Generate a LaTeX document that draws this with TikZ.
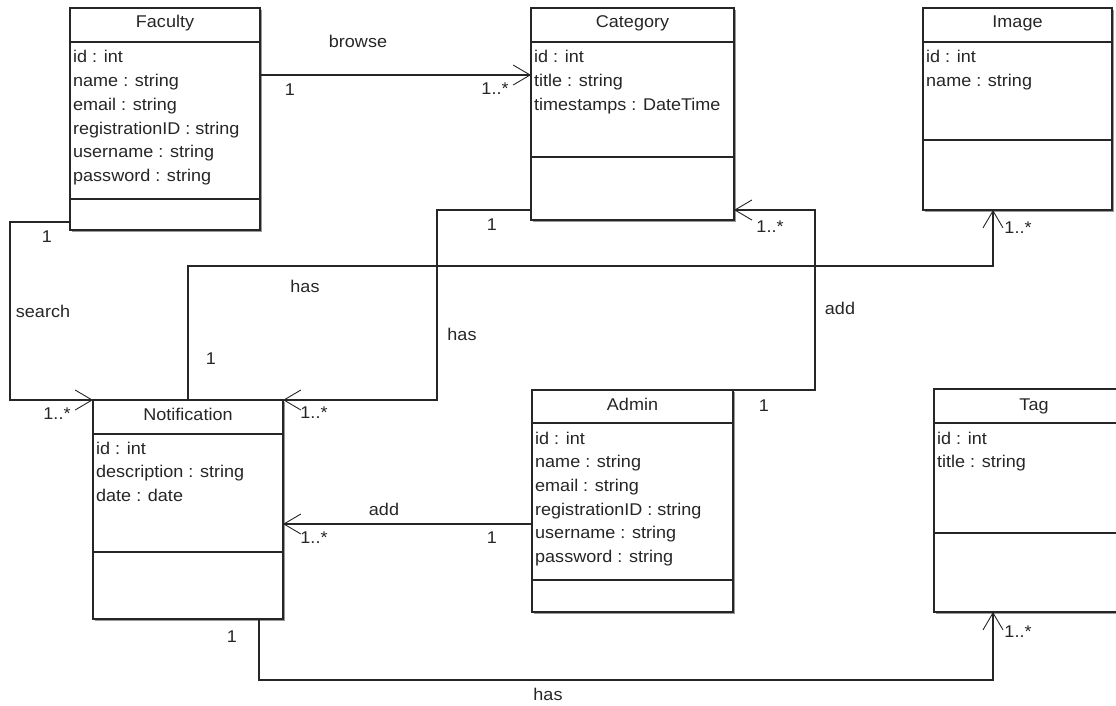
\documentclass[tikz,border=0pt]{standalone}
\usepackage{fontspec}
\setmainfont{Liberation Sans}[FakeStretch=1.06]
\usetikzlibrary{arrows.meta,shadows}

\begin{document}
\begin{tikzpicture}[x=1pt,y=-1pt,
  font=\fontsize{17}{20}\selectfont,
  classbox/.style={draw=black!85, line width=1.1pt, fill=white,
    inner sep=0pt, outer sep=0pt, anchor=north west,
    drop shadow={shadow xshift=1.6pt, shadow yshift=-1.6pt, fill=black!40, opacity=1}},
  sepline/.style={draw=black!85, line width=1.1pt},
  title/.style={anchor=base, inner sep=0pt, text=black!85},
  attr/.style={anchor=base west, inner sep=0pt, text=black!85},
  lbl/.style={anchor=base, inner sep=0pt, text=black!85},
  assoc/.style={draw=black!85, line width=1.1pt,
    -{Straight Barb[length=17pt,width=20pt,line width=0.9pt]}}]

\useasboundingbox (0,0) rectangle (1116,706);
\clip (0,0) rectangle (1116,706);

% ---------- classes ----------
% Faculty
\node[classbox, minimum width=190pt, minimum height=222pt] (fac) at (70,8) {};
\draw[sepline] (fac.west |- 0,42) -- (fac.east |- 0,42);
\draw[sepline] (fac.west |- 0,199) -- (fac.east |- 0,199);
\node[title] (fac-t) at (165,28) {Faculty};
\foreach \t [count=\i from 0] in {id : int, name : string, email : string,
    registrationID : string, username : string, password : string}
  \node[attr] (fac-a\i) at (73,{63+23.7*\i}) {\t};

% Category
\node[classbox, minimum width=203pt, minimum height=212pt] (cat) at (531,8) {};
\draw[sepline] (cat.west |- 0,42) -- (cat.east |- 0,42);
\draw[sepline] (cat.west |- 0,157) -- (cat.east |- 0,157);
\node[title] (cat-t) at (632.5,28) {Category};
\foreach \t [count=\i from 0] in {id : int, title : string, timestamps : DateTime}
  \node[attr] (cat-a\i) at (534,{63+23.7*\i}) {\t};

% Image
\node[classbox, minimum width=189pt, minimum height=202pt] (img) at (923,8) {};
\draw[sepline] (img.west |- 0,42) -- (img.east |- 0,42);
\draw[sepline] (img.west |- 0,140) -- (img.east |- 0,140);
\node[title] (img-t) at (1017.5,28) {Image};
\foreach \t [count=\i from 0] in {id : int, name : string}
  \node[attr] (img-a\i) at (926,{63+23.7*\i}) {\t};

% Notification
\node[classbox, minimum width=190pt, minimum height=219pt] (notif) at (93,400) {};
\draw[sepline] (notif.west |- 0,434) -- (notif.east |- 0,434);
\draw[sepline] (notif.west |- 0,552) -- (notif.east |- 0,552);
\node[title] (notif-t) at (188,420) {Notification};
\foreach \t [count=\i from 0] in {id : int, description : string, date : date}
  \node[attr] (notif-a\i) at (96,{454+23.7*\i}) {\t};

% Admin
\node[classbox, minimum width=201pt, minimum height=222pt] (adm) at (532,390) {};
\draw[sepline] (adm.west |- 0,423) -- (adm.east |- 0,423);
\draw[sepline] (adm.west |- 0,580) -- (adm.east |- 0,580);
\node[title] (adm-t) at (632.5,410) {Admin};
\foreach \t [count=\i from 0] in {id : int, name : string, email : string,
    registrationID : string, username : string, password : string}
  \node[attr] (adm-a\i) at (535,{444+23.7*\i}) {\t};

% Tag (runs past the right edge)
\node[classbox, minimum width=200pt, minimum height=223pt] (tag) at (934,389) {};
\draw[sepline] (tag.west |- 0,423) -- (tag.east |- 0,423);
\draw[sepline] (tag.west |- 0,533) -- (tag.east |- 0,533);
\node[title] (tag-t) at (1034,410) {Tag};
\foreach \t [count=\i from 0] in {id : int, title : string}
  \node[attr] (tag-a\i) at (937,{444+23.7*\i}) {\t};

% ---------- associations ----------
% Faculty browses Category
\draw[assoc] (fac.east |- 0,75) -- (cat.west |- 0,75);
\node[lbl] (l-browse) at (358,48) {browse};
\node[lbl] (m-browse-1) at (290,96) {1};
\node[lbl] (m-browse-n) at (495,95) {1..*};

% Faculty searches Notification
\draw[assoc] (fac.west |- 0,222) -| (10,400) -- (notif.north west);
\node[lbl] (m-search-1) at (47,242) {1};
\node[lbl] (l-search) at (43,317) {search};
\node[lbl] (m-search-n) at (57,419) {1..*};

% Notification has Image
\draw[assoc] (notif.north) |- (993,266) -- (img.south -| 993,0);
\node[lbl] (m-nimg-1) at (211,364) {1};
\node[lbl] (l-nimg) at (305,292) {has};
\node[lbl] (m-nimg-n) at (1018,233) {1..*};

% Category has Notification
\draw[assoc] (cat.west |- 0,210) -| (437,400) -- (notif.north east);
\node[lbl] (m-cat-1) at (492,230) {1};
\node[lbl] (l-cat) at (462,340) {has};
\node[lbl] (m-cat-n) at (314,418) {1..*};

% Admin adds Category
\draw[assoc] (adm.north east) -| (815,210) -- (cat.east |- 0,210);
\node[lbl] (m-acat-1) at (764,411) {1};
\node[lbl] (l-acat) at (840,314) {add};
\node[lbl] (m-acat-n) at (770,232) {1..*};

% Admin adds Notification
\draw[assoc] (adm.west |- 0,524) -- (notif.east |- 0,524);
\node[lbl] (l-anot) at (384,515) {add};
\node[lbl] (m-anot-1) at (492,543) {1};
\node[lbl] (m-anot-n) at (314,543) {1..*};

% Notification has Tag
\draw[assoc] (notif.south -| 259,0) |- (993,680) -- (tag.south -| 993,0);
\node[lbl] (m-ntag-1) at (232,642) {1};
\node[lbl] (l-ntag) at (548,700) {has};
\node[lbl] (m-ntag-n) at (1018,637) {1..*};
\end{tikzpicture}
\end{document}
